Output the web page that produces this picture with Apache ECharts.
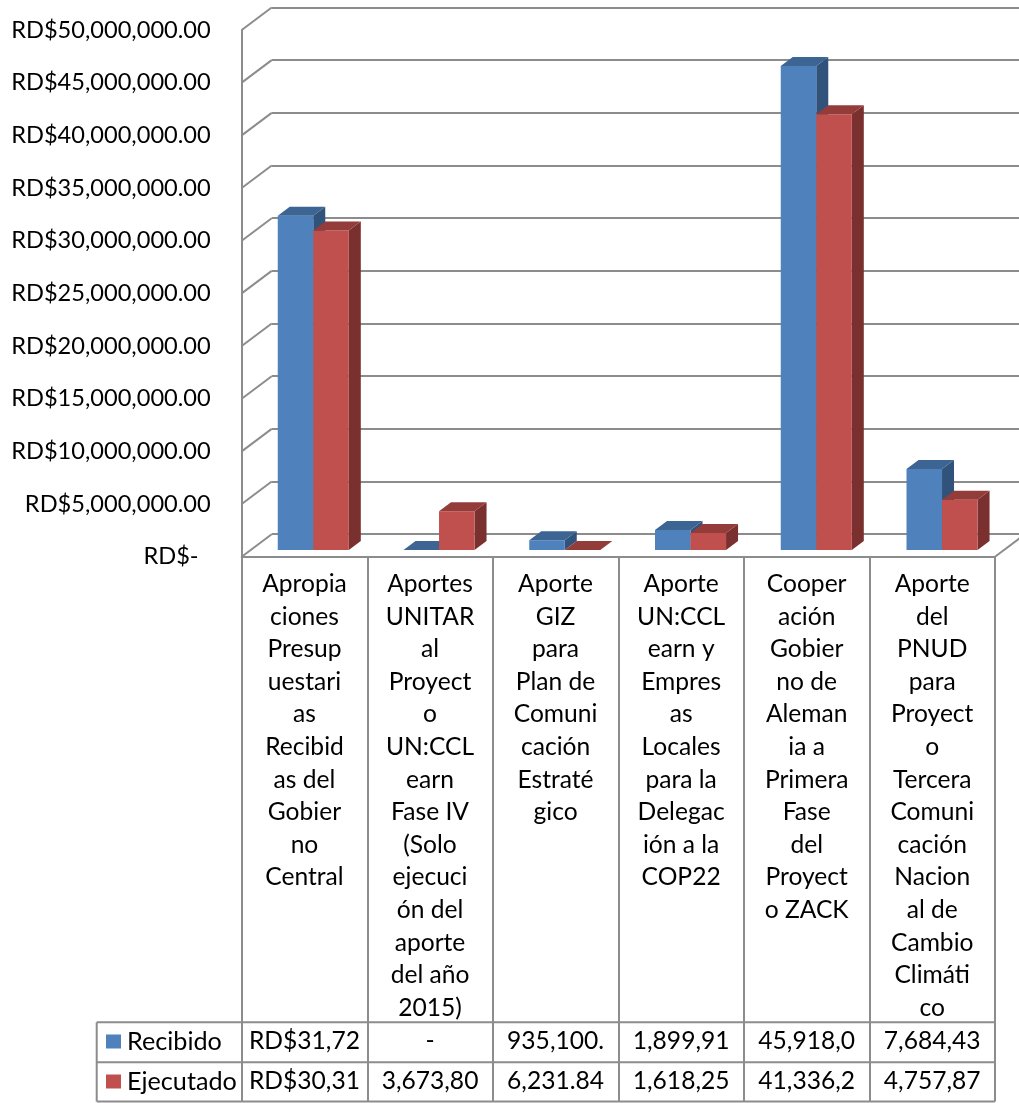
<!DOCTYPE html>
<html>
<head>
<meta charset="utf-8">
<script src="https://cdn.jsdelivr.net/npm/echarts@6/dist/echarts.min.js"></script>
<style>
html,body{margin:0;padding:0;background:#fff;}
#chart{width:1019px;height:1103px;}
</style>
</head>
<body>
<div id="chart"></div>
<script>
// ---------- data ----------
var categories = [
  "Apropia\nciones\nPresup\nuestari\nas\nRecibid\nas del\nGobier\nno\nCentral",
  "Aportes\nUNITAR\nal\nProyect\no\nUN:CCL\nearn\nFase IV\n(Solo\nejecuci\nón del\naporte\ndel año\n2015)",
  "Aporte\nGIZ\npara\nPlan de\nComuni\ncación\nEstraté\ngico",
  "Aporte\nUN:CCL\nearn y\nEmpres\nas\nLocales\npara la\nDelegac\nión a la\nCOP22",
  "Cooper\nación\nGobier\nno de\nAleman\nia a\nPrimera\nFase\ndel\nProyect\no ZACK",
  "Aporte\ndel\nPNUD\npara\nProyect\no\nTercera\nComuni\ncación\nNacion\nal de\nCambio\nClimáti\nco"
];
var recibido  = [31720000, 0, 935100, 1899910, 45918000, 7684430];
var ejecutado = [30310000, 3673800, 6231.84, 1618250, 41336200, 4757870];
var recibidoText  = ["RD$31,72", "-", "935,100.", "1,899,91", "45,918,0", "7,684,43"];
var ejecutadoText = ["RD$30,31", "3,673,80", "6,231.84", "1,618,25", "41,336,2", "4,757,87"];
var yTicks = [0, 5000000, 10000000, 15000000, 20000000, 25000000, 30000000, 35000000, 40000000, 45000000, 50000000];
var yTickLabels = ["RD$-  ", "RD$5,000,000.00", "RD$10,000,000.00", "RD$15,000,000.00", "RD$20,000,000.00",
  "RD$25,000,000.00", "RD$30,000,000.00", "RD$35,000,000.00", "RD$40,000,000.00", "RD$45,000,000.00", "RD$50,000,000.00"];
var seriesNames = ["Recibido", "Ejecutado"];

// ---------- style ----------
var FONT = "Lato";
var FS_AXIS = 23.6;
var FS_TABLE = 24.6;
var GRID_COLOR = "#8c8c8c";
var colors = {
  Recibido:  {front: "#4F81BD", top: "#3D6594", side: "#31527A"},
  Ejecutado: {front: "#C0504D", top: "#943C3A", side: "#7A302E"}
};
var WALL_DX = 30, WALL_DY = -22.5;
var BAR_DX = 12, BAR_DY = -9;

var front = {left: 241.7, top: 30, width: 753.3, height: 526.7};
var back  = {left: front.left + WALL_DX, top: front.top + WALL_DY, width: 753.3, height: 526.7};
var bars  = {left: 250.4, top: 23, width: 754.5, height: 527};
var tableLeft = 96.7, rowY = [1022.3, 1062.3, 1101.5];

function toDataPairs(arr){ return arr.map(function(v,i){ return [i, v]; }); }

function barRenderer(name, sideIdx){
  var c = colors[name];
  return function(params, api){
    var i = api.value(0), v = api.value(1);
    var base = api.coord([i, 0]);
    var topP = api.coord([i, v]);
    var band = api.size([1, 0])[0];
    var w = band * 0.2825;
    var x0 = sideIdx === 0 ? base[0] - w : base[0];
    var x1 = x0 + w;
    var yb = base[1], yt = topP[1];
    return {
      type: "group",
      children: [
        {type: "polygon", shape: {points: [[x1, yt], [x1 + BAR_DX, yt + BAR_DY], [x1 + BAR_DX, yb + BAR_DY], [x1, yb]]}, style: {fill: c.side}},
        {type: "polygon", shape: {points: [[x0, yt], [x1, yt], [x1, yb], [x0, yb]]}, style: {fill: c.front}},
        {type: "polygon", shape: {points: [[x0, yt], [x0 + BAR_DX, yt + BAR_DY], [x1 + BAR_DX, yt + BAR_DY], [x1, yt]]}, style: {fill: c.top}}
      ]
    };
  };
}

function wallRenderer(params, api){
  var v = api.value(1);
  var cs = params.coordSys;
  var y = api.coord([0, v])[1];
  var children = [{
    type: "line",
    shape: {x1: cs.x, y1: y, x2: cs.x + WALL_DX, y2: y + WALL_DY},
    style: {stroke: GRID_COLOR, lineWidth: 2}
  }];
  if (v === 0) {
    children.push({
      type: "line",
      shape: {x1: cs.x + cs.width, y1: y, x2: cs.x + cs.width + WALL_DX, y2: y + WALL_DY},
      style: {stroke: GRID_COLOR, lineWidth: 2}
    });
  }
  return {type: "group", children: children};
}

var chart = echarts.init(document.getElementById("chart"), null, {renderer: "canvas"});

var tableGraphics = [];
rowY.forEach(function(y){
  tableGraphics.push({type: "line", shape: {x1: tableLeft, y1: y, x2: front.left + front.width, y2: y},
    style: {stroke: GRID_COLOR, lineWidth: 2}, z: 10});
});
tableGraphics.push({type: "line", shape: {x1: tableLeft, y1: rowY[0], x2: tableLeft, y2: rowY[2]},
  style: {stroke: GRID_COLOR, lineWidth: 2}, z: 10});

var option = {
  backgroundColor: "#ffffff",
  animation: false,
  textStyle: {fontFamily: FONT},
  grid: [
    {left: front.left, top: front.top, width: front.width, height: front.height},
    {left: back.left, top: back.top, width: back.width, height: back.height},
    {left: bars.left, top: bars.top, width: bars.width, height: bars.height}
  ],
  legend: {
    data: seriesNames,
    orient: "vertical",
    left: 106, top: 1029,
    padding: 0,
    icon: "rect",
    itemWidth: 15, itemHeight: 14,
    itemGap: 15,
    textStyle: {fontSize: 25.2, color: "#000", fontFamily: FONT, padding: [0, 0, 0, 1]}
  },
  xAxis: [
    { // 0: front category axis (table headers + vertical table lines)
      type: "category", gridIndex: 0, data: categories, position: "bottom",
      axisLine: {show: true, lineStyle: {color: GRID_COLOR, width: 2}},
      axisTick: {show: true, length: rowY[2] - (front.top + front.height), interval: 0,
                 lineStyle: {color: GRID_COLOR, width: 2}},
      axisLabel: {interval: 0, fontSize: FS_TABLE, color: "#000", fontFamily: FONT, lineHeight: 32.6,
                  margin: 11, align: "center", verticalAlign: "top"},
      splitLine: {show: false}
    },
    { // 1: Recibido row
      type: "category", gridIndex: 0, data: recibidoText, position: "bottom",
      offset: rowY[0] - (front.top + front.height),
      axisLine: {show: false}, axisTick: {show: false},
      axisLabel: {interval: 0, fontSize: FS_TABLE, color: "#000", fontFamily: FONT, margin: 19, verticalAlign: "middle"}
    },
    { // 2: Ejecutado row
      type: "category", gridIndex: 0, data: ejecutadoText, position: "bottom",
      offset: rowY[1] - (front.top + front.height),
      axisLine: {show: false}, axisTick: {show: false},
      axisLabel: {interval: 0, fontSize: FS_TABLE, color: "#000", fontFamily: FONT, margin: 19, verticalAlign: "middle"}
    },
    { // 3: back wall
      type: "category", gridIndex: 1, data: categories, show: false
    },
    { // 4: bars
      type: "category", gridIndex: 2, data: categories, show: false
    }
  ],
  yAxis: [
    { // 0: front value axis with labels
      type: "value", gridIndex: 0, min: 0, max: 50000000, interval: 5000000,
      axisLine: {show: true, lineStyle: {color: GRID_COLOR, width: 2}},
      axisTick: {show: false},
      splitLine: {show: false},
      axisLabel: {fontSize: FS_AXIS, color: "#000", fontFamily: FONT, margin: 31,
        formatter: function(v){ return yTickLabels[Math.round(v / 5000000)]; }}
    },
    { // 1: back wall gridlines
      type: "value", gridIndex: 1, min: 0, max: 50000000, interval: 5000000,
      axisLine: {show: false}, axisTick: {show: false}, axisLabel: {show: false},
      splitLine: {show: true, lineStyle: {color: GRID_COLOR, width: 2}}
    },
    { // 2: bars
      type: "value", gridIndex: 2, min: 0, max: 50000000, interval: 5000000, show: false,
      splitLine: {show: false}
    }
  ],
  series: [
    {
      type: "custom", name: "wall", xAxisIndex: 0, yAxisIndex: 0,
      data: toDataPairs(yTicks).map(function(p){ return [0, p[1]]; }),
      encode: {x: 0, y: 1}, renderItem: wallRenderer, silent: true, z: 1
    },
    {
      type: "custom", name: "Recibido", xAxisIndex: 4, yAxisIndex: 2,
      data: toDataPairs(recibido), encode: {x: 0, y: 1},
      itemStyle: {color: colors.Recibido.front},
      renderItem: barRenderer("Recibido", 0), z: 3
    },
    {
      type: "custom", name: "Ejecutado", xAxisIndex: 4, yAxisIndex: 2,
      data: toDataPairs(ejecutado), encode: {x: 0, y: 1},
      itemStyle: {color: colors.Ejecutado.front},
      renderItem: barRenderer("Ejecutado", 1), z: 4
    }
  ],
  graphic: tableGraphics
};
chart.setOption(option);
</script>
</body>
</html>
